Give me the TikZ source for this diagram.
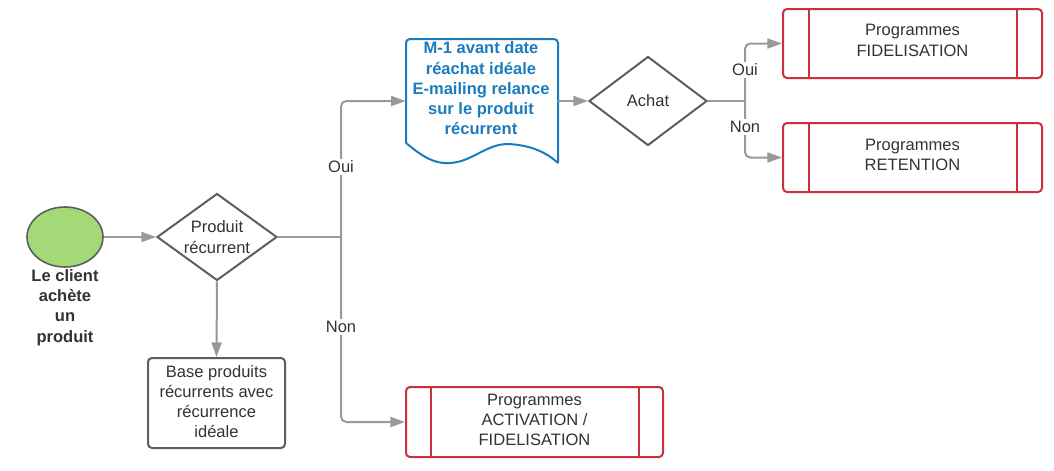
\documentclass[tikz,border=0pt]{standalone}
\usepackage{fontspec}
\setmainfont{Liberation Sans}
\usetikzlibrary{shapes.geometric,arrows.meta,calc}
\definecolor{linegray}{HTML}{999999}
\definecolor{edgegray}{HTML}{5E5E5E}
\definecolor{txtgray}{HTML}{333333}
\definecolor{lucidgreen}{HTML}{A3D977}
\definecolor{lucidred}{HTML}{CC2F3D}
\definecolor{lucidblue}{HTML}{1B7BBF}
\begin{document}
\begin{tikzpicture}[x=0.75pt,y=-0.75pt,
  every node/.style={font=\fontsize{12.4pt}{15.2pt}\selectfont, text=txtgray, align=center},
  conn/.style={draw=linegray, line width=1.5pt, rounded corners=4pt},
  arrowline/.style={conn, -{Triangle[length=11pt,width=7.5pt]}},
  graybox/.style={rectangle, draw=edgegray, line width=1.5pt, rounded corners=3pt, inner sep=0pt},
  redbox/.style={rectangle, draw=lucidred, line width=1.5pt, rounded corners=3pt, inner sep=0pt},
  lbl/.style={fill=white, inner sep=1.5pt}
]
\useasboundingbox (0,0) rectangle (1054,471);
\fill[white] (0,0) rectangle (1054,471);

% start ellipse
\node[ellipse, draw=edgegray, line width=1.2pt, fill=lucidgreen, minimum width=57pt, minimum height=45pt, inner sep=0pt] (start) at (65,237) {};
\node[font=\fontsize{12.4pt}{15.2pt}\selectfont\bfseries] (startlbl) at (65,307.5) {Le client\\achète\\un\\produit};

% decision 1
\node[diamond, draw=edgegray, line width=1.5pt, minimum width=90pt, minimum height=65.25pt, inner sep=0pt] (d1) at (217,237) {};
\node (d1t) at (d1) {Produit\\récurrent};

% base box
\node[graybox, minimum width=102.75pt, minimum height=67.5pt] (base) at (216.5,403) {};
\node (baset) at (216.5,401.5) {Base produits\\récurrents avec\\récurrence\\idéale};

% document shape
\node[minimum width=114pt, minimum height=93pt, inner sep=0pt] (doc) at (482,101) {};
\draw[draw=lucidblue, line width=1.5pt, rounded corners=3pt]
  (406,143) -- (406,39) -- (558,39) -- (558,163);
\draw[draw=lucidblue, line width=1.5pt]
  (406,143) .. controls (422,156) and (433,164) .. (450,163)
  .. controls (472,162) and (486,144) .. (508,144)
  .. controls (530,145) and (546,152) .. (558,163);
\node[text=lucidblue, font=\fontsize{12.4pt}{15.2pt}\selectfont\bfseries] (doct) at (481,88.5) {M-1 avant date\\réachat idéale\\E-mailing relance\\sur le produit\\récurrent};

% decision 2
\node[diamond, draw=edgegray, line width=1.5pt, minimum width=88.5pt, minimum height=66.75pt, inner sep=0pt] (d2) at (648,101) {};
\node (d2t) at (d2) {Achat};

% red boxes
\node[redbox, minimum width=194.25pt, minimum height=51.75pt] (fid) at (912.5,43.5) {};
\node (fidt) at (912.5,40.5) {Programmes\\FIDELISATION};
\node[redbox, minimum width=194.25pt, minimum height=51.75pt] (ret) at (912.5,157.5) {};
\node (rett) at (912.5,155) {Programmes\\RETENTION};
\node[redbox, minimum width=192.75pt, minimum height=52.5pt] (act) at (534.5,422) {};
\node (actt) at (534.5,420) {Programmes\\ACTIVATION /\\FIDELISATION};
\foreach \b in {fid,ret}{
  \draw[lucidred, line width=1.5pt] ([xshift=20.25pt]\b.north west) -- ([xshift=20.25pt]\b.south west);
  \draw[lucidred, line width=1.5pt] ([xshift=-19.5pt]\b.north east) -- ([xshift=-19.5pt]\b.south east);
}
\draw[lucidred, line width=1.5pt] ([xshift=19.5pt]act.north west) -- ([xshift=19.5pt]act.south west);
\draw[lucidred, line width=1.5pt] ([xshift=-18.75pt]act.north east) -- ([xshift=-18.75pt]act.south east);

% connectors
\coordinate (j1) at (341,237);
\coordinate (j2) at (745,101);
\draw[arrowline] (start.east) -- (d1.west);
\draw[arrowline] (d1.south) -- (base.north);
\draw[conn] (d1.east) -- (j1);
\draw[arrowline] (j1) |- (doc.west);
\draw[arrowline] (j1) |- (act.west);
\draw[arrowline] (doc.east) -- (d2.west);
\draw[conn] (d2.east) -- (j2);
\draw[arrowline] (j2) |- (fid.west);
\draw[arrowline] (j2) |- (ret.west);

% labels
\node[lbl] (oui1) at (341,167) {Oui};
\node[lbl] (non1) at (341,327) {Non};
\node[lbl] (oui2) at (745,70) {Oui};
\node[lbl] (non2) at (745,127) {Non};
\end{tikzpicture}
\end{document}
